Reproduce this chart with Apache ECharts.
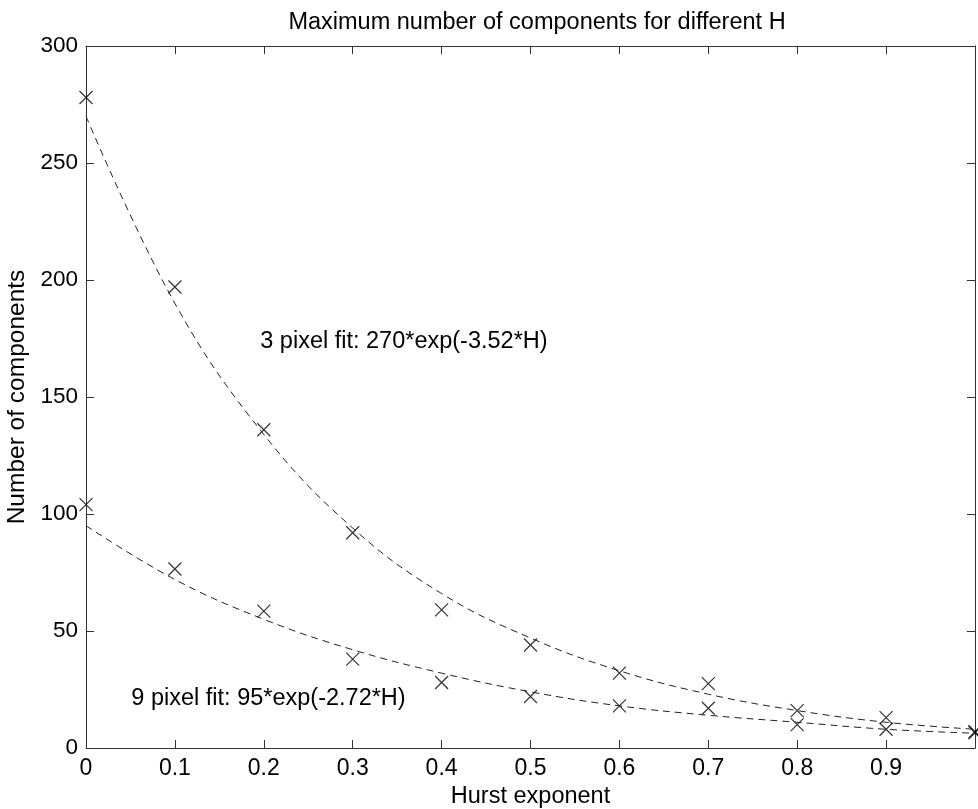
<!DOCTYPE html>
<html><head><meta charset="utf-8">
<script src="https://cdn.jsdelivr.net/npm/echarts@6/dist/echarts.min.js"></script>
<style>html,body{margin:0;padding:0;background:#fff}#c{width:978px;height:809px}</style>
</head><body><div id="c"></div>
<script>
const hurst = [0, 0.1, 0.2, 0.3, 0.4, 0.5, 0.6, 0.7, 0.8, 0.9, 1.0];
const px3Measured = [278, 197, 136, 92, 59, 44, 32, 27.5, 16, 13, 7];
const px9Measured = [104, 76.5, 58.5, 38, 28, 22, 18, 17, 10, 8, 6.5];
const px3Fit = [270, 190, 134, 94, 66, 47, 33, 23, 16, 11, 8];
const px9Fit = [95, 72, 55, 42, 32, 24, 18, 14, 11, 8, 6.3];
const yTicks = [0, 50, 100, 150, 200, 250, 300];
const titleText = 'Maximum number of components for different H';
const xName = 'Hurst exponent';
const yName = 'Number of components';
const note3 = {x: 0.196, y: 173.6, text: '3 pixel fit: 270*exp(-3.52*H)'};
const note9 = {x: 0.051, y: 21.2, text: '9 pixel fit: 95*exp(-2.72*H)'};

const font = 'Liberation Sans, Arial, Helvetica, sans-serif';
const pair = (xs, ys) => xs.map((x, i) => [x, ys[i]]);
const xMark = 'path://M0,0L10,10M10,0L0,10';
const axisCol = '#333';

const chart = echarts.init(document.getElementById('c'), null, {renderer: 'canvas'});
const baseAxisLine = {show: true, onZero: false, lineStyle: {color: axisCol, width: 1}};
const tickIn = {show: true, inside: true, length: 8, lineStyle: {color: axisCol}};
chart.setOption({
  backgroundColor: '#fff',
  animation: false,
  title: {text: titleText, left: 532, top: 6, textAlign: 'center',
    textStyle: {fontFamily: font, fontSize: 23.5, fontWeight: 'normal', color: '#000'}},
  grid: {left: 86, right: 3, top: 46, bottom: 61, containLabel: false, outerBoundsMode: 'none'},
  xAxis: [{
    type: 'value', min: 0, max: 1, interval: 0.1, position: 'bottom',
    name: xName, nameLocation: 'middle', nameGap: 36,
    nameTextStyle: {fontFamily: font, fontSize: 23.5, color: '#000'},
    axisLine: baseAxisLine, axisTick: tickIn, splitLine: {show: false},
    axisLabel: {fontFamily: font, fontSize: 23, color: '#000', margin: 9,
      formatter: v => v > 0.95 ? '' : String(Math.round(v * 10) / 10)}
  }, {
    type: 'value', min: 0, max: 1, interval: 0.1, position: 'top',
    axisLine: baseAxisLine, axisTick: tickIn, splitLine: {show: false},
    axisLabel: {show: false}
  }],
  yAxis: [{
    type: 'value', min: yTicks[0], max: yTicks[yTicks.length - 1], interval: 50, position: 'left',
    name: yName, nameLocation: 'middle', nameGap: 45, nameRotate: 90,
    nameTextStyle: {fontFamily: font, fontSize: 24.5, color: '#000'},
    axisLine: baseAxisLine, axisTick: tickIn, splitLine: {show: false},
    axisLabel: {fontFamily: font, fontSize: 22.5, color: '#000', margin: 8}
  }, {
    type: 'value', min: yTicks[0], max: yTicks[yTicks.length - 1], interval: 50, position: 'right',
    axisLine: baseAxisLine, axisTick: tickIn, splitLine: {show: false},
    axisLabel: {show: false}
  }],
  series: [
    {type: 'line', name: '3 pixel fit', data: pair(hurst, px3Fit), smooth: 0.4, showSymbol: false,
      lineStyle: {color: '#222', width: 1, type: [7, 5]}},
    {type: 'line', name: '9 pixel fit', data: pair(hurst, px9Fit), smooth: 0.4, showSymbol: false,
      lineStyle: {color: '#222', width: 1, type: [7, 5]}},
    {type: 'scatter', name: '3 pixel', data: pair(hurst, px3Measured), symbol: xMark, symbolSize: 13,
      itemStyle: {color: 'rgba(0,0,0,0)', borderColor: '#000', borderWidth: 1.2}},
    {type: 'scatter', name: '9 pixel', data: pair(hurst, px9Measured), symbol: xMark, symbolSize: 13,
      itemStyle: {color: 'rgba(0,0,0,0)', borderColor: '#000', borderWidth: 1.2}}
  ]
});

function placeNotes() {
  const notes = [note3, note9].map(n => {
    const p = chart.convertToPixel({xAxisIndex: 0, yAxisIndex: 0}, [n.x, n.y]);
    return {type: 'text', x: p[0], y: p[1], style: {text: n.text, fontFamily: font, fontSize: 23.5,
      fill: '#000', verticalAlign: 'middle', textVerticalAlign: 'middle'}};
  });
  chart.setOption({graphic: notes});
}
placeNotes();
</script></body></html>
